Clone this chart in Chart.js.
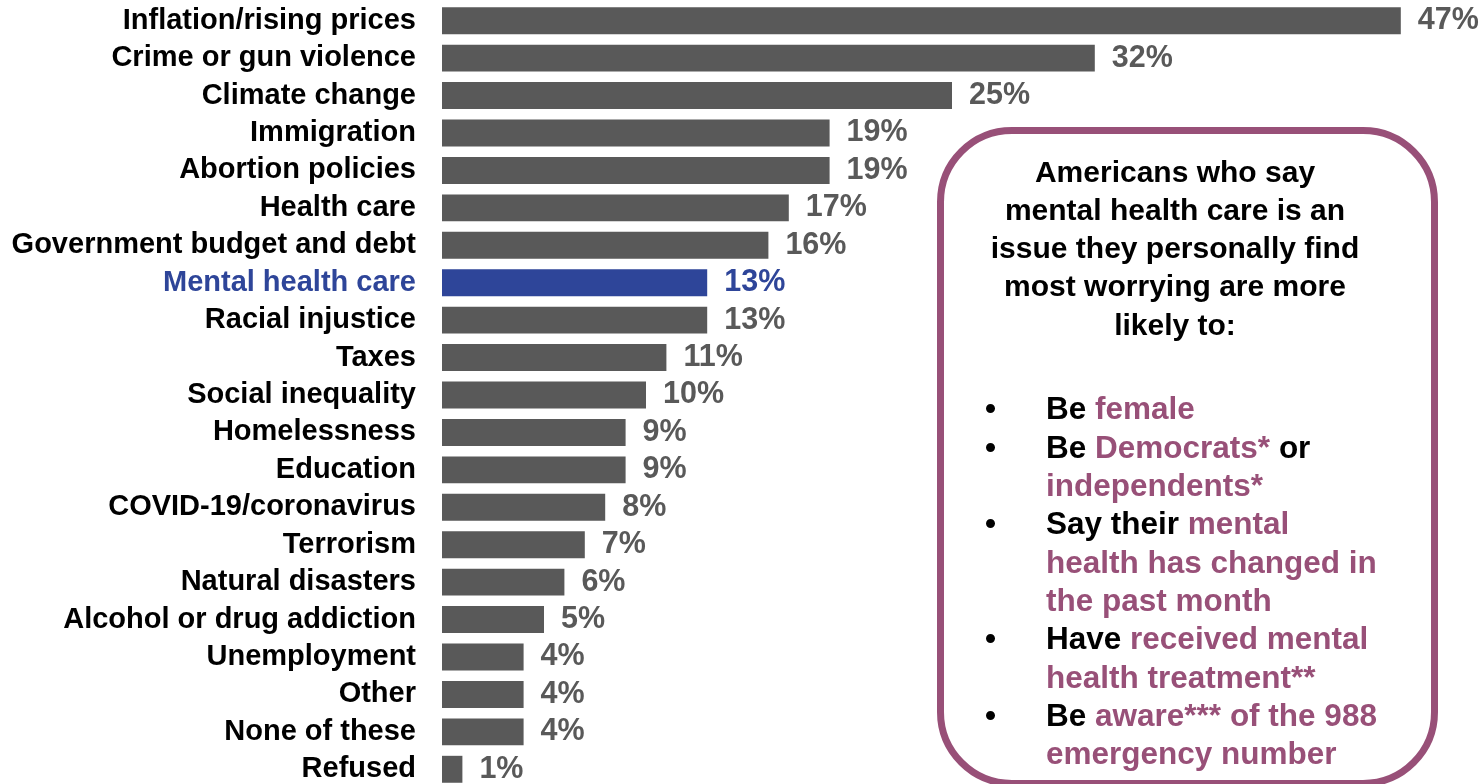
<!DOCTYPE html>
<html>
<head>
<meta charset="utf-8">
<script src="https://cdn.jsdelivr.net/npm/chart.js@4/dist/chart.umd.min.js"></script>
<style>
  html, body { margin: 0; padding: 0; background: #fff; overflow: hidden; }
  #page { position: relative; width: 1480px; height: 784px; overflow: hidden; }
  #chart { position: absolute; left: 0; top: 0; }
  #note {
    position: absolute; left: 937px; top: 127px; width: 501px; height: 660px;
    box-sizing: border-box; border: 7px solid #985078; border-radius: 75px;
    font-family: "Liberation Sans", Arial, sans-serif; font-weight: bold;
    font-size: 30px; line-height: 38.3px; color: #000;
  }
  #note .head { margin: 18.5px 25px 0 0; text-align: center; }
  #note .list { margin-top: 45.5px; font-size: 31.5px; }
  #note .item { position: relative; padding-left: 102px; white-space: nowrap; }
  #note .item::before { content: "\2022"; position: absolute; left: 41px; }
  #note .hl { color: #985078; }
</style>
</head>
<body>
<div id="page">
  <canvas id="chart" width="1480" height="788"></canvas>
  <div id="note">
    <div class="head">Americans who say<br>mental health care is an<br>issue they personally find<br>most worrying are more<br>likely to:</div>
    <div class="list">
      <div class="item">Be <span class="hl">female</span></div>
      <div class="item">Be <span class="hl">Democrats*</span> or<br><span class="hl">independents*</span></div>
      <div class="item">Say their <span class="hl">mental<br>health has changed in<br>the past month</span></div>
      <div class="item">Have <span class="hl">received mental<br>health treatment**</span></div>
      <div class="item">Be <span class="hl">aware*** of the 988<br>emergency number</span></div>
    </div>
  </div>
</div>
<script>
// Issues people find most worrying (% of adults)
const issues = [
  'Inflation/rising prices', 'Crime or gun violence', 'Climate change', 'Immigration',
  'Abortion policies', 'Health care', 'Government budget and debt', 'Mental health care',
  'Racial injustice', 'Taxes', 'Social inequality', 'Homelessness', 'Education',
  'COVID-19/coronavirus', 'Terrorism', 'Natural disasters', 'Alcohol or drug addiction',
  'Unemployment', 'Other', 'None of these', 'Refused'
];
const shares = [47, 32, 25, 19, 19, 17, 16, 13, 13, 11, 10, 9, 9, 8, 7, 6, 5, 4, 4, 4, 1];
const highlighted = 'Mental health care';

const grey = '#595959';
const blue = '#2e4599';
const fontFamily = '"Liberation Sans", Arial, sans-serif';

const isHighlight = (i) => issues[i] === highlighted;

// percent labels to the right of each bar
const valueLabels = {
  id: 'valueLabels',
  afterDatasetsDraw(chart) {
    const ctx = chart.ctx;
    const meta = chart.getDatasetMeta(0);
    ctx.save();
    ctx.font = 'bold 30.5px ' + fontFamily;
    ctx.textAlign = 'left';
    ctx.textBaseline = 'middle';
    meta.data.forEach((bar, i) => {
      ctx.fillStyle = isHighlight(i) ? blue : grey;
      ctx.fillText(shares[i] + '%', bar.x + 17, bar.y);
    });
    ctx.restore();
  }
};

new Chart(document.getElementById('chart'), {
  type: 'bar',
  data: {
    labels: issues,
    datasets: [{
      data: shares,
      backgroundColor: issues.map((_, i) => isHighlight(i) ? blue : grey),
      categoryPercentage: 1,
      barPercentage: 0.72,
      borderWidth: 0
    }]
  },
  options: {
    indexAxis: 'y',
    responsive: false,
    animation: false,
    layout: { padding: { top: 2, right: 18, left: 0, bottom: 0 } },
    plugins: { legend: { display: false }, tooltip: { enabled: false } },
    scales: {
      x: { display: false, min: 0, max: 50 },
      y: {
        // fixed label column; no extra room above/below the bars
        afterFit: (axis) => {
          axis.width = 442;
          axis.paddingTop = 0;
          axis.paddingBottom = 0;
        },
        border: { display: false },
        grid: { display: false, drawTicks: false },
        ticks: {
          autoSkip: false,
          padding: 26,
          font: { family: fontFamily, size: 29, weight: 'bold' },
          color: (c) => isHighlight(c.index) ? blue : '#000'
        }
      }
    }
  },
  plugins: [valueLabels]
});
</script>
</body>
</html>
